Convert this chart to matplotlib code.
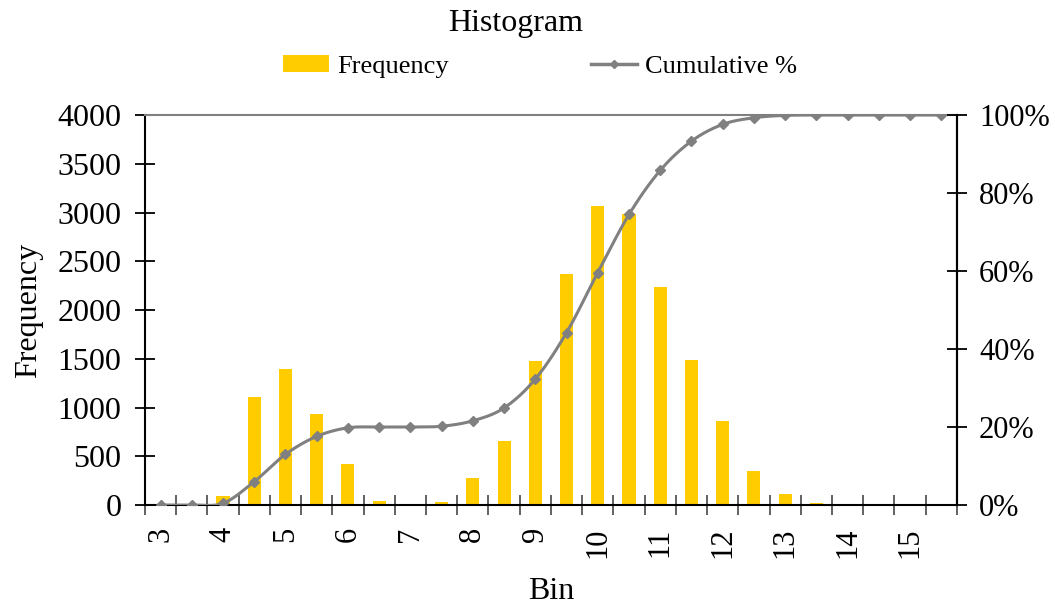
import matplotlib.pyplot as plt
import numpy as np
from matplotlib.lines import Line2D
from matplotlib.patches import Patch
from matplotlib.ticker import FuncFormatter

plt.rcParams["font.family"] = ["Liberation Serif", "DejaVu Serif"]

# histogram bins (0.5 steps) and their counts
bins = [3, 3.5, 4, 4.5, 5, 5.5, 6, 6.5, 7, 7.5, 8, 8.5, 9, 9.5, 10, 10.5,
        11, 11.5, 12, 12.5, 13, 13.5, 14, 14.5, 15, 15.5]
frequency = [0, 0, 90, 1110, 1390, 930, 420, 40, 0, 30, 280, 660, 1480, 2370,
             3070, 2980, 2240, 1490, 860, 350, 110, 20, 0, 0, 0, 0]
cumulative_pct = [0.0, 0.0, 0.45, 6.0, 13.0, 17.6, 19.8, 20.0, 20.0, 20.2,
                  21.6, 24.9, 32.3, 44.2, 59.6, 74.5, 85.8, 93.3, 97.6, 99.3,
                  99.9, 100.0, 100.0, 100.0, 100.0, 100.0]

BAR_COLOR = "#FFCC00"
LINE_COLOR = "#808080"


def smooth_curve(x, y, steps=20):
    """Cubic Hermite (Catmull-Rom) through the points, like a smoothed line."""
    x = np.asarray(x, float)
    y = np.asarray(y, float)
    n = len(x)
    m = np.zeros(n)
    m[1:-1] = (y[2:] - y[:-2]) / 2
    m[0] = y[1] - y[0]
    m[-1] = y[-1] - y[-2]
    xs, ys = [], []
    for i in range(n - 1):
        t = np.linspace(0, 1, steps, endpoint=False)
        h00 = 2 * t**3 - 3 * t**2 + 1
        h10 = t**3 - 2 * t**2 + t
        h01 = -2 * t**3 + 3 * t**2
        h11 = t**3 - t**2
        xs.append(x[i] + t * (x[i + 1] - x[i]))
        ys.append(h00 * y[i] + h10 * m[i] + h01 * y[i + 1] + h11 * m[i + 1])
    xs.append([x[-1]])
    ys.append([y[-1]])
    return np.concatenate(xs), np.concatenate(ys)


fig = plt.figure(figsize=(10.55, 6.07), dpi=100)
ax = fig.add_axes([0.1374, 0.168, 0.7696, 0.6425])

pos = np.arange(len(bins))
ax.bar(pos, frequency, width=0.42, color=BAR_COLOR, zorder=2)
ax.set_xlim(-0.5, len(bins) - 0.5)
ax.set_ylim(0, 4000)
ax.set_yticks(np.arange(0, 4001, 500))

# category boundaries carry the tick marks, labels on whole-number bins
ax.set_xticks(np.arange(-0.5, len(bins)), minor=False)
ax.set_xticklabels([])
ax.set_xticks(pos[::2], minor=True)
ax.set_xticklabels([f"{b:g}" for b in bins[::2]], minor=True, rotation=90,
                   fontsize=22)
ax.tick_params(axis="x", which="major", direction="inout", length=14,
               width=1.3, colors="#555555")
ax.tick_params(axis="x", which="minor", length=0, pad=16)
ax.tick_params(axis="y", direction="inout", length=14, width=1.3,
               labelsize=23, pad=10)

for side in ("left", "bottom", "right"):
    ax.spines[side].set_color("black")
    ax.spines[side].set_linewidth(1.5)
ax.spines["top"].set_color(LINE_COLOR)
ax.spines["top"].set_linewidth(1.5)

ax.set_xlabel("Bin", fontsize=23, labelpad=14)
ax.set_ylabel("Frequency", fontsize=23, labelpad=10)

ax2 = ax.twinx()
sx, sy = smooth_curve(pos, cumulative_pct)
ax2.plot(sx, sy, color=LINE_COLOR, linewidth=2.2, zorder=3)
ax2.plot(pos, cumulative_pct, linestyle="none", marker="D", markersize=5,
         color=LINE_COLOR, zorder=4)
ax2.set_ylim(0, 100)
ax2.set_yticks(np.arange(0, 101, 20))
ax2.yaxis.set_major_formatter(FuncFormatter(lambda v, _: f"{v:.0f}%"))
ax2.tick_params(axis="y", direction="inout", length=14, width=1.3,
                labelsize=22, pad=9)
for side in ("left", "bottom", "top"):
    ax2.spines[side].set_visible(False)
ax2.spines["right"].set_color("black")
ax2.spines["right"].set_linewidth(1.5)

fig.text(0.489, 0.962, "Histogram", ha="center", va="center", fontsize=23)

handles = [
    Patch(facecolor=BAR_COLOR, edgecolor="none"),
    Line2D([], [], color=LINE_COLOR, linewidth=2.5, marker="D", markersize=4),
]
fig.legend(handles, ["Frequency", "Cumulative %"], loc="center",
           bbox_to_anchor=(0.512, 0.89), ncol=2, frameon=False, fontsize=19,
           handlelength=1.75, handleheight=0.6, handletextpad=0.3,
           columnspacing=5.4)

fig.savefig("out.png", dpi=100)
